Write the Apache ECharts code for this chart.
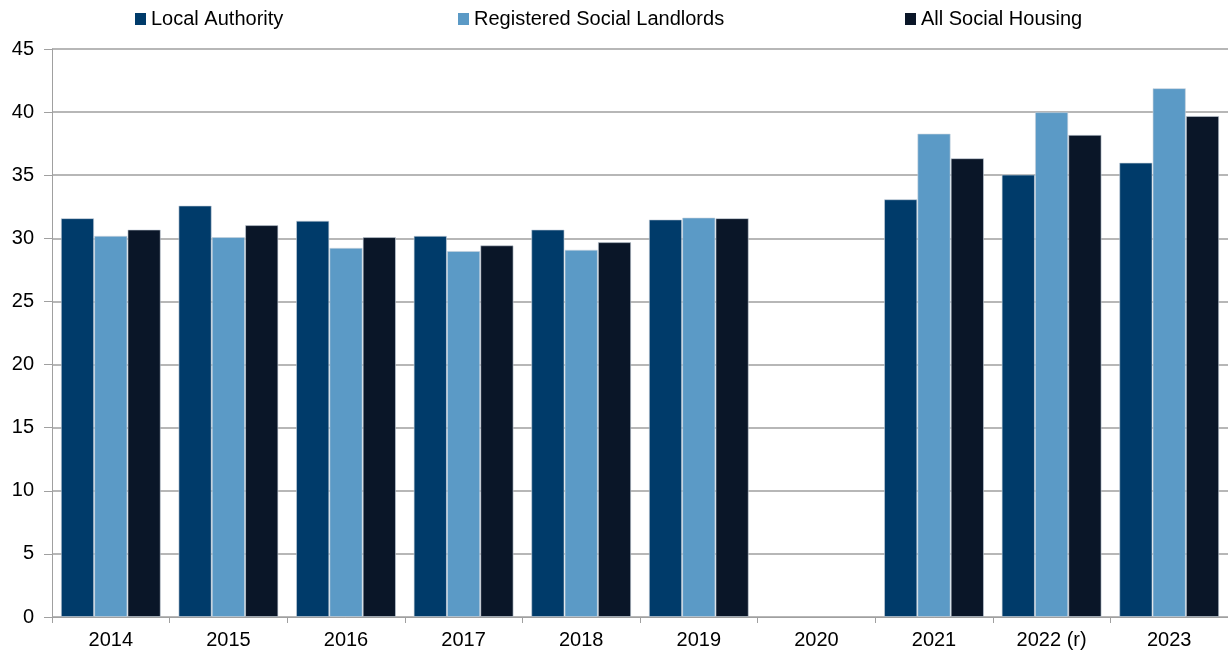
<!DOCTYPE html>
<html>
<head>
<meta charset="utf-8">
<style>
  html, body { margin: 0; padding: 0; background: #fff; }
  #chart { width: 1228px; height: 654px; }
</style>
<script src="https://cdn.jsdelivr.net/npm/echarts@6/dist/echarts.min.js"></script>
</head>
<body>
<div id="chart"></div>
<script>
(function () {
    "use strict";

    const years = ["2014", "2015", "2016", "2017", "2018", "2019", "2020", "2021", "2022 (r)", "2023"];
    // no survey figures for 2020
    const localAuthority = [31.6, 32.6, 31.4, 30.2, 30.7, 31.5, null, 33.1, 35.05, 36.0];
    const registeredSocialLandlords = [30.2, 30.1, 29.25, 29.0, 29.1, 31.65, null, 38.3, 40.0, 41.9];
    const allSocialHousing = [30.7, 31.05, 30.1, 29.45, 29.7, 31.6, null, 36.35, 38.2, 39.7];

    const font = "Liberation Sans, Arial, sans-serif";
    const colors = ["#003b6a", "#5b9ac6", "#0a1628"];
    const names = ["Local Authority", "Registered Social Landlords", "All Social Housing"];
    const legendLeft = [130, 453, 900];

    const myChart = echarts.init(document.getElementById("chart"));

    const makeSeries = function (name, data, color) {
        return {
            name: name,
            type: "bar",
            data: data,
            barGap: "0%",
            barCategoryGap: "15%",
            itemStyle: {
                color: color,
                borderColor: "rgba(200,210,220,0.6)",
                borderWidth: 1
            }
        };
    };

    let options = {
        animation: false,
        color: colors,
        legend: names.map(function (n, i) {
            return {
                data: [n],
                left: legendLeft[i],
                top: 4,
                itemWidth: 11,
                itemHeight: 12,
                icon: "rect",
                itemStyle: { borderWidth: 0 },
                textStyle: { fontFamily: font, fontSize: 20, color: "#000" },
                selectedMode: false
            };
        }),
        grid: {
            left: 52,
            right: 0,
            top: 49,
            bottom: 37
        },
        xAxis: {
            type: "category",
            data: years,
            axisLine: { lineStyle: { color: "#a0a0a0", width: 1 } },
            axisTick: { show: true, length: 6, alignWithLabel: false, lineStyle: { color: "#a0a0a0" } },
            axisLabel: { fontFamily: font, fontSize: 20, color: "#000", margin: 13 }
        },
        yAxis: {
            type: "value",
            min: 0,
            max: 45,
            interval: 5,
            axisLine: { show: true, lineStyle: { color: "#a0a0a0", width: 1 } },
            axisTick: { show: true, length: 8, lineStyle: { color: "#a0a0a0" } },
            axisLabel: { fontFamily: font, fontSize: 20, color: "#000", margin: 18 },
            splitLine: { lineStyle: { color: "#9f9f9f", width: 1.5 } }
        },
        series: [
            makeSeries(names[0], localAuthority, colors[0]),
            makeSeries(names[1], registeredSocialLandlords, colors[1]),
            makeSeries(names[2], allSocialHousing, colors[2])
        ]
    };
    myChart.setOption(options);
})();
</script>
</body>
</html>
